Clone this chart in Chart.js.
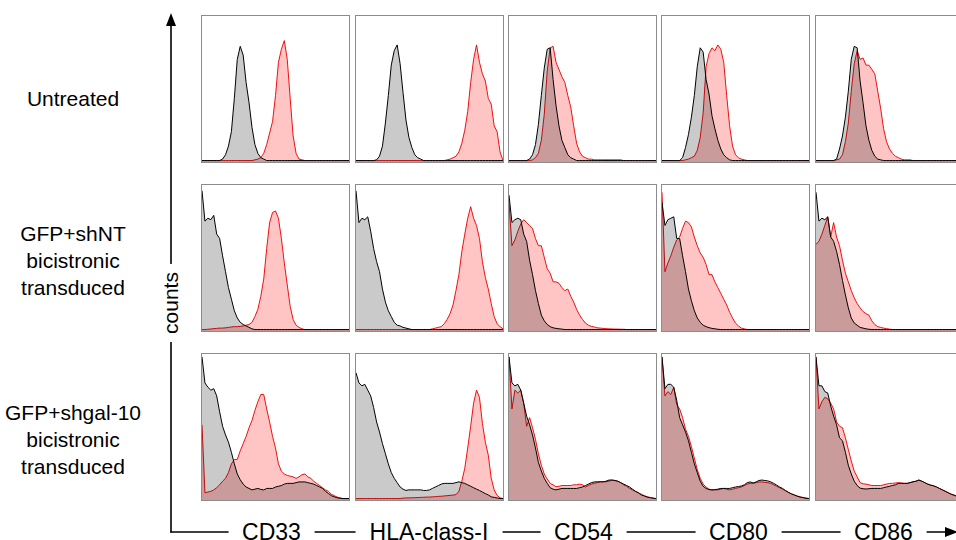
<!DOCTYPE html>
<html>
<head>
<meta charset="utf-8">
<script src="https://cdn.jsdelivr.net/npm/chart.js@4.4.1/dist/chart.umd.min.js"></script>
<style>
  html, body { margin: 0; padding: 0; background: #fff; }
  #fig { position: relative; width: 956px; height: 540px; overflow: hidden;
         font-family: "Liberation Sans", Arial, sans-serif; color: #000; }
  #axes { position: absolute; left: 0; top: 0; }
  .panel { position: absolute; width: 149px; height: 148px; box-sizing: border-box;
           border: 1px solid #8c8c8c; background: #fff; }
  .panel canvas { display: block; }
  .row-label { position: absolute; width: 160px; text-align: center; font-size: 21px; line-height: 27px; }
  .marker { position: absolute; top: 532px; transform: translate(-50%, -50%); background: #fff;
            padding: 0 14px; font-size: 23px; line-height: 22px; white-space: nowrap; }
  .counts { position: absolute; left: 171px; top: 303px; transform: translate(-50%, -50%) rotate(-90deg);
            background: #fff; padding: 0 8px; font-size: 21px; line-height: 22px; }
</style>
</head>
<body>
<div id="fig">
  <svg id="axes" width="956" height="540">
    <line x1="171" y1="24" x2="171" y2="532.5" stroke="#000" stroke-width="1.6"/>
    <polygon points="171,13 166,26 176,26" fill="#000"/>
    <line x1="170.2" y1="532" x2="946" y2="532" stroke="#000" stroke-width="1.6"/>
    <polygon points="958,532 945,527 945,537" fill="#000"/>
  </svg>
  <div class="counts">counts</div>
</div>

<script>
// fluorescence channel grid (percent of the displayed range)
const channels = [0, 2, 4, 6, 8, 10, 12, 14, 16, 18,
                  20, 22, 24, 26, 28, 30, 32, 34, 36, 38,
                  40, 42, 44, 46, 48, 50, 52, 54, 56, 58,
                  60, 62, 64, 66, 68, 70, 72, 74, 76, 78,
                  80, 82, 84, 86, 88, 90, 92, 94, 96, 98, 100];

const markers = ['CD33', 'HLA-class-I', 'CD54', 'CD80', 'CD86'];
const conditions = [
  ['Untreated'],
  ['GFP+shNT', 'bicistronic', 'transduced'],
  ['GFP+shgal-10', 'bicistronic', 'transduced']
];

// counts, % of panel height. Iso = isotype control (grey), Ab = specific antibody (red)

// ---- Untreated
const untreatedCD33Iso = [0,0,0,0,0,0,0,1,4,10, 20,43,70,79,73,54,40,23,11,5, 2,1,0,0,0,0,0,0,0,0,
                          0,0,0,0,0,0,0,0,0,0, 0,0,0,0,0,0,0,0,0,0, 0];
const untreatedCD33Ab  = [0,0,0,0,0,0,0,0,0,0, 0,0,0,0,0,0,0,0,0.5,1, 2,5,11,19,27,45,68,77,83,70,
                          43,17,5,1,0.5,0,0,0,0,0, 0,0,0,0,0,0,0,0,0,0, 0];
const untreatedHLAIso  = [0,0,0,0,0,0,0,0.5,3,10, 26,45,66,76,80,67,47,28,16,9, 4,2,1,0,0,0,0,0,0,0,
                          0,0,0,0,0,0,0,0,0,0, 0,0,0,0,0,0,0,0,0,0, 0];
const untreatedHLAAb   = [0,0,0,0,0,0,0,0,0,0, 0,0,0,0,0,0,0,0,0,0, 0,0,0,0,0,0,0,0,0,0,
                          0,0.5,1,2,3,6,12,21,34,54, 70,80,68,60,55,43,39,24,20,6, 0];
const untreatedCD54Iso = [0,0,0,0,0,0,0,1,4,11, 25,45,64,77,78,56,38,24,14,9, 4,2,1,0,0,0,0,0,0,0,
                          0,0,0,0,0,0,0,0,0,0, 0,0,0,0,0,0,0,0,0,0, 0];
const untreatedCD54Ab  = [0,0,0,0,0,0,0,0,0.5,2, 5,14,32,62,78,79,68,63,58,54, 45,37,24,12,6,3,2,1,1,0.5,
                          0.5,0.5,0.5,0.5,0.5,0.5,0.5,0.5,0.5,0, 0,0,0,0,0,0,0,0,0,0, 0];
const untreatedCD80Iso = [0,0,0,0,0,0,0,2,9,18, 30,45,65,78,75,56,46,31,22,14, 8,4,2,0.5,0,0,0,0,0,0,
                          0,0,0,0,0,0,0,0,0,0, 0,0,0,0,0,0,0,0,0,0, 0];
const untreatedCD80Ab  = [0,0,0,0,0,0,0,0,0.5,1, 2,3,7,16,33,65,74,78,76,80, 77,68,45,24,10,4,2,1,0.5,0,
                          0,0,0,0,0,0,0,0,0,0, 0,0,0,0,0,0,0,0,0,0, 0];
const untreatedCD86Iso = [0,0,0,0,0,0,0,1,8,17, 30,48,70,79,78,55,40,24,14,7, 3,1,0.5,0,0,0,0,0,0,0,
                          0,0,0,0,0,0,0,0,0,0, 0,0,0,0,0,0,0,0,0,0, 0];
const untreatedCD86Ab  = [0,0,0,0,0,0,0,0.5,1,4, 13,26,48,67,76,70,71,66,66,63, 60,48,36,22,13,8,5,3,2,1,
                          0.5,0.5,0.5,0,0,0,0,0,0,0, 0,0,0,0,0,0,0,0,0,0, 0];

// ---- GFP+shNT bicistronic transduced
const shNTCD33Iso = [96,75,77,76,79,66,63,51,40,29, 21,13,8,5,3.5,2.5,1.5,0.5,0,0, 0,0,0,0,0,0,0,0,0,0,
                     0,0,0,0,0,0,0,0,0,0, 0,0,0,0,0,0,0,0,0,0, 0];
const shNTCD33Ab  = [0,0,0.2,0.4,0.6,0.8,1,1,1.2,1.5, 1.8,2,2,2.2,2.5,3,3.5,5,9,14, 23,35,56,74,81,82,77,63,46,31,
                     16,7,3,1.5,0.5,0,0,0,0,0, 0,0,0,0,0,0,0,0,0,0, 0];
const shNTHLAIso  = [96,74,77,76,78,68,56,47,40,28, 19,13,9,5,3,2.5,1.5,1,0.5,0, 0,0,0,0,0,0,0,0,0,0,
                     0,0,0,0,0,0,0,0,0,0, 0,0,0,0,0,0,0,0,0,0, 0];
const shNTHLAAb   = [0,0,0,0,0,0,0,0,0,0, 0,0,0,0,0,0,0,0,0,0, 0,0,0,0,0,0,0.5,1,1.5,2,
                     4,7,11,17,27,38,54,66,77,85, 77,72,63,47,36,28,18,9,4,2, 0.5];
const shNTCD54Iso = [93,74,76,77,76,66,61,48,38,27, 18,10,6,3.5,2,1.2,0.8,0.5,0.3,0, 0,0,0,0,0,0,0,0,0,0,
                     0,0,0,0,0,0,0,0,0,0, 0,0,0,0,0,0,0,0,0,0, 0];
const shNTCD54Ab  = [88,58,62,68,73,76,74,72,70,63, 58,58,50,42,39,33,33,32,29,27, 28,23,19,14,10,7,4.5,3,2.2,1.8,
                     1.2,1,0.8,0.6,0.5,0.4,0.3,0.3,0.2,0.2, 0,0,0,0,0,0,0,0,0,0, 0];
const shNTCD80Iso = [88,72,76,77,78,63,63,51,40,28, 20,13,8,5,3,2,1.3,0.8,0.5,0.2, 0,0,0,0,0,0,0,0,0,0,
                     0,0,0,0,0,0,0,0,0,0, 0,0,0,0,0,0,0,0,0,0, 0];
const shNTCD80Ab  = [95,40,46,51,57,62,64,70,75,74, 71,64,58,53,50,45,38,38,33,29, 25,21,17,12,8,4.5,2.5,1,0.5,0,
                     0,0,0,0,0,0,0,0,0,0, 0,0,0,0,0,0,0,0,0,0, 0];
const shNTCD86Iso = [95,75,77,76,78,64,61,54,45,34, 24,15,8,4.5,3,1.5,1,0.5,0.2,0, 0,0,0,0,0,0,0,0,0,0,
                     0,0,0,0,0,0,0,0,0,0, 0,0,0,0,0,0,0,0,0,0, 0];
const shNTCD86Ab  = [59,61,66,72,78,64,74,64,58,48, 39,33,27,22,18,15,12.5,11,10,6, 3.5,2,1.5,1,0.6,0.3,0,0,0,0,
                     0,0,0,0,0,0,0,0,0,0, 0,0,0,0,0,0,0,0,0,0, 0];

// ---- GFP+shgal-10 bicistronic transduced
const shGalCD33Iso = [98,80,77,75,76,71,60,50,44,39, 32,24,17,13,10,8,7,6,6.5,7, 6.3,6,7,7,7,8,8.5,9,10,10.5,
                      10.5,10.5,11,11.5,11.5,11.5,11,10.5,10,9, 8,7,5,3.5,2,1.2,0.5,0.2,0,0, 0];
const shGalCD33Ab  = [51,4,4.5,5,6,7.5,9.5,12,14,18, 24,27,27,33,38,43,49,54,61,67, 72,72,62,53,43,35,24,19,17,16,
                      15.5,15,14,15,16.5,17,15,14,12,10.5, 9,7.5,6,5,3,2,1,0.4,0,0, 0];
const shGalHLAIso  = [87,80,78,79,75,71,63,53,46,38, 31,24,18,14,11,8,6.5,5.6,6,6, 6,6,6,5.6,5.6,6,7,8,9,10,
                      10.5,10.5,10.5,10.5,11,11.6,11,10.5,9.5,8.5, 7.5,6.5,5.6,4.5,3.4,2.5,1.2,0.8,0.4,0, 0];
const shGalHLAAb   = [0,0,0,0,0,0,0,0,0,0, 0,0,0,0,0,0,0.3,0.4,0.5,0.5, 0.6,0.7,0.8,0.9,1,1,1.2,1.3,1.5,1.6,
                      1.8,2,2.2,2.4,2.7,5,12,21,35,50, 66,75,70,52,39,30,14,6,2.2,0.5, 0];
const shGalCD54Iso = [98,80,78,79,75,66,57,51,44,35, 25,19,14,10.5,7.5,6.5,6,6.5,7,7, 7,7,7,7,7.5,8,9,10,11,11.5,
                      11.6,11.6,11.6,12,12.8,12.8,12.5,12,11,10, 9,8,6.5,5,4,2.5,1.8,1,0.6,0.3, 0];
const shGalCD54Ab  = [98,62,75,73,75,66,50,56,49,41, 31,23,17,13.5,10.5,9.5,8.2,8.5,9,9, 9,9,9.5,9.5,10,9.5,8,9,10,10.5,
                      11,11.6,11.6,11.6,12,12.8,12.5,12,11,9.5, 8.5,7,6,5,4,3,2,1.3,0.7,0.2, 0];
const shGalCD80Iso = [98,76,79,79,77,68,56,51,46,40, 32,24,18,12,8.5,7,6.2,6,6.2,6.5, 7,7,7,7,7.5,8,8.3,8.7,9.5,11,
                      11.5,10.8,11.5,12.5,12.8,12.5,12.2,11.5,10.5,9.3, 8,7,5.5,4.3,3.2,2.5,1.6,1,0.6,0.2, 0];
const shGalCD80Ab  = [98,71,74,72,77,65,62,56,48,43, 36,28,20,14,10,8,6.5,6,6,6, 6.5,7,6.5,6,6.5,7,7.5,8,9,10,
                      10.5,10.5,11,11.5,11.5,11.2,11,10.5,9.5,8.5, 7.5,6.5,5.5,4.3,3.3,2.5,1.8,1.2,0.7,0.3, 0];
const shGalCD86Iso = [98,78,78,74,73,64,57,51,42,40, 32,23,17,12,9,7.2,6.8,6.6,6.8,7, 7,7,7,7.5,8,8.5,9,9.5,10.5,10.5,
                      10.5,10.5,11,11.6,12,12.8,12,11,10,9.3, 8.8,8,7,6,5,4,3,2.3,1.5,1, 0.5];
const shGalCD86Ab  = [98,62,67,70,69,66,62,53,50,49, 42,34,26,19,15,11,10.2,10,9.5,9, 9,9,9,9.5,10,10.5,10.5,10.8,11,10.8,
                      10.5,10.5,11,11.6,12,12.8,12,11,10,9.3, 8.8,8,7,6,5,4,3,2.3,1.5,1, 0.5];

// rows = conditions, columns = markers: [isotype, antibody]
const histograms = [
  [[untreatedCD33Iso, untreatedCD33Ab], [untreatedHLAIso, untreatedHLAAb], [untreatedCD54Iso, untreatedCD54Ab],
   [untreatedCD80Iso, untreatedCD80Ab], [untreatedCD86Iso, untreatedCD86Ab]],
  [[shNTCD33Iso, shNTCD33Ab], [shNTHLAIso, shNTHLAAb], [shNTCD54Iso, shNTCD54Ab],
   [shNTCD80Iso, shNTCD80Ab], [shNTCD86Iso, shNTCD86Ab]],
  [[shGalCD33Iso, shGalCD33Ab], [shGalHLAIso, shGalHLAAb], [shGalCD54Iso, shGalCD54Ab],
   [shGalCD80Iso, shGalCD80Ab], [shGalCD86Iso, shGalCD86Ab]]
];

// layout (px)
const colLeft = [201, 355, 508, 661, 815];
const rowTop = [15, 184, 353];
const rowLabelCenter = [98, 260, 439];
const markerCenter = [271.5, 429, 583.5, 738.5, 883.5];

// overlapping fills are multiplied, like the stacked histogram overlay
const multiplyFills = {
  id: 'multiplyFills',
  beforeDatasetsDraw(chart) {
    chart.ctx.save();
    chart.ctx.globalCompositeOperation = 'multiply';
  },
  afterDatasetsDraw(chart) {
    chart.ctx.restore();
  }
};

const fig = document.getElementById('fig');

conditions.forEach((lines, r) => {
  const lab = document.createElement('div');
  lab.className = 'row-label';
  lab.style.left = (73 - 80) + 'px';
  lab.style.top = (rowLabelCenter[r] - lines.length * 27 / 2) + 'px';
  lab.innerHTML = lines.join('<br>');
  fig.appendChild(lab);
});

markers.forEach((m, c) => {
  const lab = document.createElement('div');
  lab.className = 'marker';
  lab.style.left = markerCenter[c] + 'px';
  lab.textContent = m;
  fig.appendChild(lab);
});

histograms.forEach((row, r) => {
  row.forEach(([iso, ab], c) => {
    const box = document.createElement('div');
    box.className = 'panel';
    box.style.left = colLeft[c] + 'px';
    box.style.top = rowTop[r] + 'px';
    const canvas = document.createElement('canvas');
    canvas.width = 147;
    canvas.height = 146;
    box.appendChild(canvas);
    fig.appendChild(box);

    new Chart(canvas, {
      type: 'line',
      data: {
        labels: channels,
        datasets: [{
          label: markers[c],
          data: ab,
          borderColor: '#ee1111',
          backgroundColor: 'rgb(255,196,196)',
          borderWidth: 1,
          fill: 'start',
          pointRadius: 0,
          tension: 0
        }, {
          label: 'isotype',
          data: iso,
          borderColor: '#000000',
          backgroundColor: 'rgb(202,202,202)',
          borderWidth: 1,
          fill: 'start',
          pointRadius: 0,
          tension: 0
        }]
      },
      options: {
        responsive: false,
        animation: false,
        events: [],
        layout: { padding: 0 },
        plugins: { legend: { display: false }, tooltip: { enabled: false } },
        scales: {
          x: { display: false },
          y: { display: false, min: -1, max: 100 }
        }
      },
      plugins: [multiplyFills]
    });
  });
});
</script>
</body>
</html>
